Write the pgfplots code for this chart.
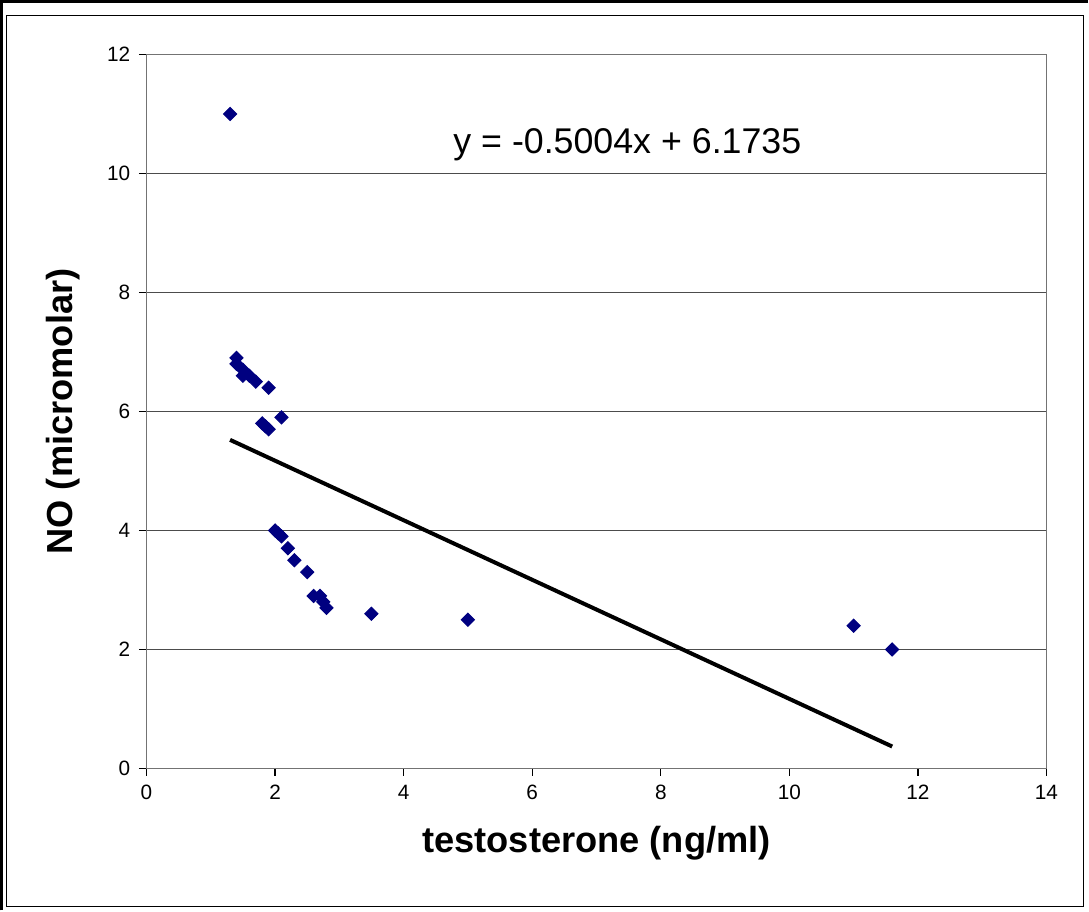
\documentclass[border=0pt]{standalone}
\usepackage{fontspec}
\setmainfont{Liberation Sans}
\usepackage{pgfplots}
\pgfplotsset{compat=1.18}
\definecolor{navymark}{RGB}{0,0,128}

\begin{document}
\begin{tikzpicture}
\begin{axis}[
  scale only axis,
  width=360pt, height=285.6pt,
  xmin=0, xmax=14, ymin=0, ymax=12,
  xtick={0,2,...,14}, ytick={0,2,...,12},
  tick align=outside, tick pos=left,
  major tick length=3pt,
  ymajorgrids, grid style={black!70, line width=0.5pt},
  axis line style={black!55, line width=0.6pt},
  tick style={black, line width=0.5pt},
  ticklabel style={font=\fontsize{8.3}{10}\selectfont},
  /pgf/number format/assume math mode=true,
  xlabel={\bfseries testosterone (ng/ml)},
  ylabel={\bfseries NO (micromolar)},
  label style={font=\fontsize{14.5}{16}\selectfont},
  xlabel style={yshift=-4pt},
  ylabel style={yshift=4pt},
  clip=false,
]
\addplot[only marks, mark=square*, mark size=1.85pt, mark options={rotate=45}, color=navymark] coordinates {
(1.3,11.0) (1.4,6.9) (1.4,6.8) (1.5,6.7) (1.5,6.6) (1.6,6.6) (1.7,6.5)
(1.9,6.4) (1.8,5.8) (1.85,5.75) (1.9,5.7) (2.1,5.9)
(2.0,4.0) (2.05,3.95) (2.1,3.9) (2.2,3.7) (2.3,3.5) (2.5,3.3)
(2.6,2.9) (2.7,2.9) (2.75,2.8) (2.8,2.7) (3.5,2.6) (5.0,2.5)
(11.0,2.4) (11.6,2.0)
};
\addplot[black, line width=1.6pt] coordinates {(1.3,5.523) (11.6,0.369)};
\node[font=\fontsize{14.3}{16}\selectfont] at (axis cs:7.48,10.49) {y = -0.5004x + 6.1735};
\draw[black, line width=0.7pt] (rel axis cs:-0.1556,-0.1933) rectangle (rel axis cs:1.0411,1.0546);
\draw[black, line width=1.2pt] (rel axis cs:-0.1611,-0.1989) -- (rel axis cs:-0.1611,1.0742) -- (rel axis cs:1.0456,1.0742);
\end{axis}
\end{tikzpicture}
\end{document}
